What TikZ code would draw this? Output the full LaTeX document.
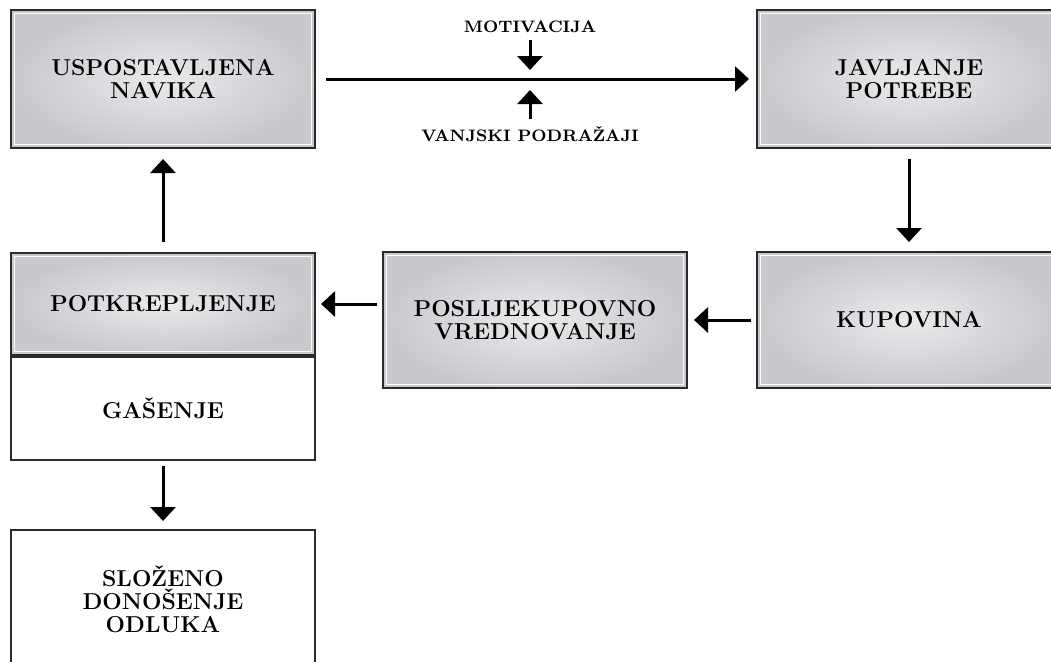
\documentclass[tikz,border=0pt]{standalone}
\usetikzlibrary{arrows.meta}
\definecolor{boxedge}{HTML}{2B2B2B}
\definecolor{shadein}{HTML}{E9EAEC}
\definecolor{shadeout}{HTML}{C7C9CC}
\begin{document}
\begin{tikzpicture}[x=0.5pt, y=-0.5pt,
		B/.style={draw=boxedge, line width=1pt, minimum width=152pt, minimum height=#1,
			align=center, inner sep=0pt, font=\fontsize{11.5}{11.5}\selectfont\bfseries},
		G/.style={B=#1, inner color=shadein, outer color=shadeout,
			path picture={\draw[white, line width=0.7pt]
				([shift={(1.8pt,-1.8pt)}]path picture bounding box.north west) rectangle
				([shift={(-1.8pt,1.8pt)}]path picture bounding box.south east);}},
		arr/.style={line width=1.5pt, -{Triangle[width=12.5pt,length=7pt]}},
		lbl/.style={font=\fontsize{8.3}{9}\selectfont\bfseries}
		]
		\useasboundingbox (0,0) rectangle (1051,661);
		\clip (0,0) rectangle (1051,661);
		
		\node[G=69pt] (navika) at (163,79) {USPOSTAVLJENA\\NAVIKA};
		\node[G=69pt] (potreba) at (909,79) {JAVLJANJE\\POTREBE};
		\node[G=68pt] (kupovina) at (909,320) {KUPOVINA};
		\node[G=68pt] (vrednovanje) at (535,320) {POSLIJEKUPOVNO\\VREDNOVANJE};
		\node[G=51pt] (potkrepljenje) at (163,304) {POTKREPLJENJE};
		\node[B=51.5pt, anchor=north] (gasenje) at (potkrepljenje.south) {GAŠENJE};
		\node[B=69pt] (slozeno) at (163,599) {SLOŽENO\\DONOŠENJE\\ODLUKA};
		
		\draw[arr, shorten <=5pt, shorten >=3.5pt] (navika) -- (potreba);
		\draw[arr, shorten <=5pt, shorten >=4.5pt] (potreba) -- (kupovina);
		\draw[arr, shorten <=2.5pt, shorten >=3pt] (kupovina) -- (vrednovanje);
		\draw[arr, shorten <=2.5pt, shorten >=2.5pt] (vrednovanje.west |- potkrepljenje) -- (potkrepljenje.east);
		\draw[arr, shorten <=5pt, shorten >=5pt] (potkrepljenje) -- (navika);
		\draw[arr, shorten <=2.5pt, shorten >=4pt] (gasenje) -- (slozeno);
		
		% influences on the habit line
		\node[lbl] (motivacija) at (530,27) {MOTIVACIJA};
		\node[lbl] (podrazaji) at (530,134) {VANJSKI PODRAŽAJI};
		\coordinate (iznad) at (530,70);
		\coordinate (ispod) at (530,90);
		\draw[arr] (motivacija) -- (iznad);
		\draw[arr] (podrazaji) -- (ispod);
		
		\end{tikzpicture}
\end{document}
